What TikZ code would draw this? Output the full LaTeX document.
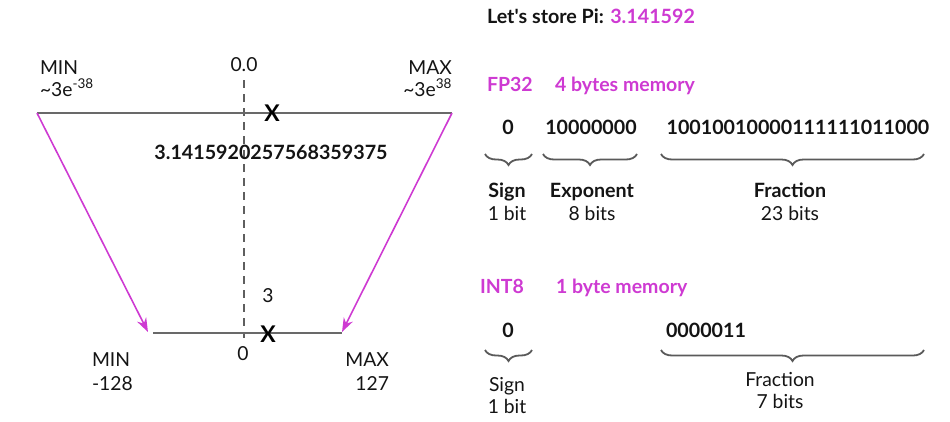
\documentclass[tikz,border=0pt]{standalone}
\usepackage{fontspec}
\setmainfont{Lato}
\usetikzlibrary{decorations.pathreplacing,arrows.meta}
\definecolor{mag}{RGB}{206,58,210}
\definecolor{axisgray}{RGB}{105,105,105}
\definecolor{bracegray}{RGB}{90,90,90}
\definecolor{ink}{RGB}{20,20,20}

\begin{document}
\begin{tikzpicture}[x=1pt,y=-1pt,
  every node/.style={inner sep=0pt,outer sep=0pt,text=ink},
  txt/.style={font=\fontsize{19.3}{22}\selectfont},
  btxt/.style={font=\fontsize{19.7}{22}\selectfont\bfseries},
  magtxt/.style={font=\fontsize{19.5}{22}\selectfont\bfseries,text=mag},
  xmark/.style={font=\fontsize{23}{26}\selectfont\bfseries,text=black},
  axisline/.style={draw=axisgray,line width=2pt},
  zeroline/.style={draw=axisgray!90!black,line width=1.6pt,dash pattern=on 8pt off 6pt},
  maparrow/.style={draw=mag,line width=1.6pt,-{Stealth[length=14pt,width=10pt]}},
  bitbrace/.style={draw=bracegray,line width=1.8pt,decorate,
    decoration={brace,amplitude=11pt,raise=0pt}}
]
\useasboundingbox (0,0) rectangle (950,421);

% ---------- number lines ----------
\coordinate (fpL) at (37,113);
\coordinate (fpR) at (452,113);
\coordinate (intL) at (153,333);
\coordinate (intR) at (342,333);
\coordinate (intLtip) at (148,332);
\coordinate (intRtip) at (342,332);
\coordinate (zeroTop) at (244,80);
\coordinate (zeroBot) at (244,338);

\draw[zeroline] (zeroTop) -- (zeroBot);
\draw[axisline] (fpL) -- (fpR);
\draw[axisline] (intL) -- (intR);
\draw[maparrow] (fpL) -- (intLtip);
\draw[maparrow] (fpR) -- (intRtip);

\node[xmark] (xfp) at (272,113) {X};
\node[xmark] (xint) at (268,334) {X};

% FP32 range labels
\node[txt,anchor=base west] (fpmin) at (40,74) {MIN};
\node[txt,anchor=base west] (fpminv) at (40,96) {\textasciitilde3e\textsuperscript{-38}};
\node[txt,anchor=base] (fpzero) at (244,71) {0.0};
\node[txt,anchor=base east] (fpmax) at (452,74) {MAX};
\node[txt,anchor=base east] (fpmaxv) at (452,96) {\textasciitilde3e\textsuperscript{38}};
\node[btxt,anchor=base] (fpval) at (271,159) {3.1415920257568359375};

% INT8 range labels
\node[txt,anchor=base] (intval) at (268,302) {3};
\node[txt,anchor=base] (intzero) at (243,360) {0};
\node[txt,anchor=base west] (intmin) at (92,366) {MIN};
\node[txt,anchor=base west] (intminv) at (92,390) {-128};
\node[txt,anchor=base east] (intmax) at (389,366) {MAX};
\node[txt,anchor=base east] (intmaxv) at (389,390) {127};

% ---------- bit layouts ----------
\node[btxt,anchor=base west] (title) at (487,23) {Let\textquotesingle s store Pi: \textcolor{mag}{3.141592}};

% FP32
\node[magtxt,anchor=base west] (fp32) at (487,91) {FP32};
\node[magtxt,anchor=base west] (fp32mem) at (555,91) {4 bytes memory};
\node[btxt,anchor=base] (fpsign) at (508,134) {0};
\node[btxt,anchor=base] (fpexp) at (591,134) {10000000};
\node[btxt,anchor=base] (fpfrac) at (798,134) {10010010000111111011000};

\coordinate (fbs1) at (485,154); \coordinate (fbs2) at (532,154);
\coordinate (fbe1) at (543,154); \coordinate (fbe2) at (637,154);
\coordinate (fbf1) at (661,154); \coordinate (fbf2) at (924,154);
\draw[bitbrace] (fbs2) -- (fbs1);
\draw[bitbrace] (fbe2) -- (fbe1);
\draw[bitbrace] (fbf2) -- (fbf1);

\node[btxt,anchor=base] (fpsignl) at (507,197) {Sign};
\node[txt,anchor=base] (fpsignn) at (507,220) {1 bit};
\node[btxt,anchor=base] (fpexpl) at (592,197) {Exponent};
\node[txt,anchor=base] (fpexpn) at (592,220) {8 bits};
\node[btxt,anchor=base] (fpfracl) at (790,197) {Fraction};
\node[txt,anchor=base] (fpfracn) at (790,220) {23 bits};

% INT8
\node[magtxt,anchor=base west] (int8) at (480,293) {INT8};
\node[magtxt,anchor=base west] (int8mem) at (556,293) {1 byte memory};
\node[btxt,anchor=base] (insign) at (508,337) {0};
\node[btxt,anchor=base west] (infrac) at (666,337) {0000011};

\coordinate (ibs1) at (485,350); \coordinate (ibs2) at (532,350);
\coordinate (ibf1) at (661,350); \coordinate (ibf2) at (924,350);
\draw[bitbrace] (ibs2) -- (ibs1);
\draw[bitbrace] (ibf2) -- (ibf1);

\node[txt,anchor=base] (insignl) at (507,391) {Sign};
\node[txt,anchor=base] (insignn) at (507,413) {1 bit};
\node[txt,anchor=base] (infracl) at (780,386) {Fraction};
\node[txt,anchor=base] (infracn) at (780,408) {7 bits};
\end{tikzpicture}
\end{document}
